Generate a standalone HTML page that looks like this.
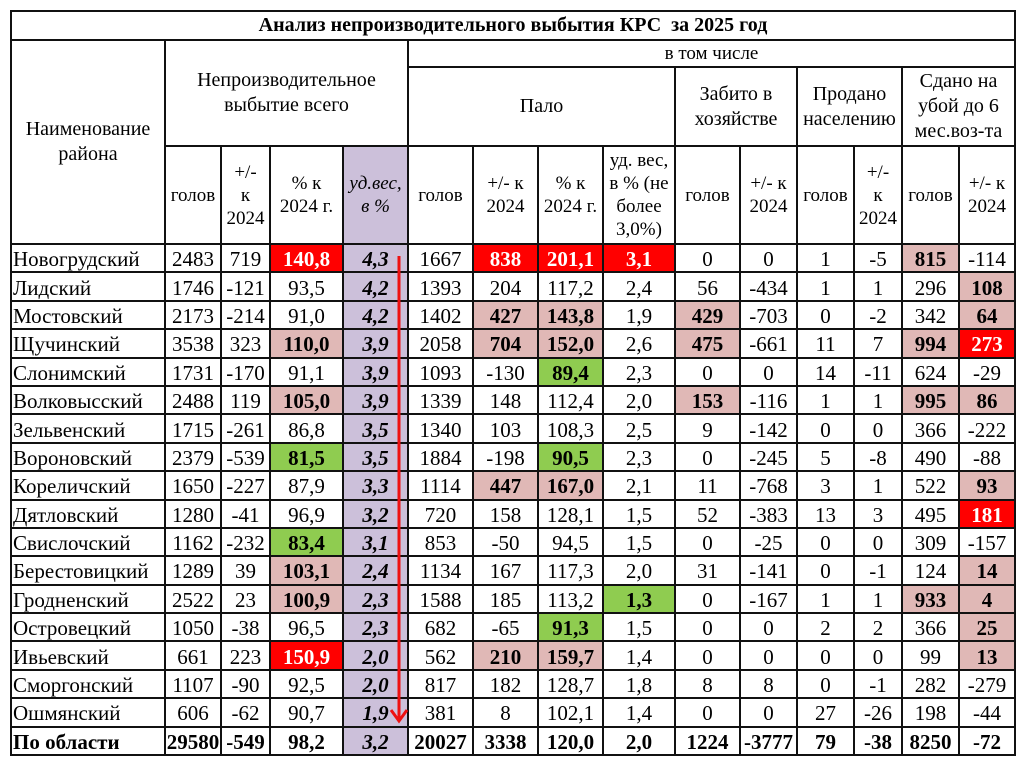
<!DOCTYPE html>
<html><head><meta charset="utf-8">
<style>
html,body{margin:0;padding:0;background:#fff;width:1024px;height:767px;overflow:hidden;}
#wrap{position:absolute;left:10px;top:10px;}
table{border-collapse:collapse;table-layout:fixed;font-family:"Liberation Serif",serif;color:#000;}
td{border:2px solid #111;padding:0;text-align:center;vertical-align:middle;overflow:hidden;white-space:nowrap;}
.title{height:27px;font-weight:bold;font-size:20px;}
.hdr{font-size:20px;line-height:25px;white-space:normal;}
.sub{font-size:19px;line-height:23px;white-space:normal;}
tr.d{height:28.4px;}
.d td{font-size:21px;line-height:18px;padding-top:2px;}
.d td.name{text-align:left;padding-left:1px;}
.pur{background:#ccc0da;}
.d td.pur{font-weight:bold;font-style:italic;}
.r{background:#ff0000;color:#fff;font-weight:bold;}
.p{background:#e0b8b6;font-weight:bold;}
.g{background:#8fcc50;font-weight:bold;}
.tot td{font-weight:bold;}
#arrow{position:absolute;left:0;top:0;pointer-events:none;}
</style></head><body>
<div id="wrap">
<table id="tbl">
<colgroup>
<col style="width:154px"><col style="width:56px"><col style="width:49px"><col style="width:73px"><col style="width:65px"><col style="width:65px"><col style="width:65px"><col style="width:65px"><col style="width:72px"><col style="width:65px"><col style="width:57px"><col style="width:57px"><col style="width:48px"><col style="width:57px"><col style="width:56px">
</colgroup>
<tr style="height:29px"><td class="title" colspan="15">Анализ непроизводительного выбытия КРС&nbsp; за 2025 год</td></tr>
<tr style="height:27px">
<td class="hdr" rowspan="3">Наименование района</td>
<td class="hdr" rowspan="2" colspan="4">Непроизводительное<br>выбытие всего</td>
<td class="hdr" colspan="10" style="font-size:19px">в том числе</td>
</tr>
<tr style="height:79px">
<td class="hdr" colspan="4">Пало</td>
<td class="hdr" colspan="2">Забито в<br>хозяйстве</td>
<td class="hdr" colspan="2">Продано<br>населению</td>
<td class="hdr" colspan="2">Сдано на<br>убой до 6<br>мес.воз-та</td>
</tr>
<tr style="height:98px">
<td class="sub">голов</td>
<td class="sub">+/-<br>к<br>2024</td>
<td class="sub">% к<br>2024 г.</td>
<td class="sub pur" style="font-style:italic">уд.вес,<br>в %</td>
<td class="sub">голов</td>
<td class="sub">+/- к<br>2024</td>
<td class="sub">% к<br>2024 г.</td>
<td class="sub">уд. вес,<br>в % (не<br>более<br>3,0%)</td>
<td class="sub">голов</td>
<td class="sub">+/- к<br>2024</td>
<td class="sub">голов</td>
<td class="sub">+/-<br>к<br>2024</td>
<td class="sub">голов</td>
<td class="sub">+/- к<br>2024</td>
</tr>
</table>
<svg id="arrow" width="1004" height="760">
<line x1="389" y1="246" x2="389" y2="710" stroke="#ee1111" stroke-width="3"/>
<polyline points="381,700 389,711 397,700" fill="none" stroke="#ee1111" stroke-width="3"/>
</svg>
</div>
<script>
const districts=["Новогрудский","Лидский","Мостовский","Щучинский","Слонимский","Волковысский","Зельвенский","Вороновский","Кореличский","Дятловский","Свислочский","Берестовицкий","Гродненский","Островецкий","Ивьевский","Сморгонский","Ошмянский","По области"];
const rowValues=[
["2483","719","140,8","4,3","1667","838","201,1","3,1","0","0","1","-5","815","-114"],
["1746","-121","93,5","4,2","1393","204","117,2","2,4","56","-434","1","1","296","108"],
["2173","-214","91,0","4,2","1402","427","143,8","1,9","429","-703","0","-2","342","64"],
["3538","323","110,0","3,9","2058","704","152,0","2,6","475","-661","11","7","994","273"],
["1731","-170","91,1","3,9","1093","-130","89,4","2,3","0","0","14","-11","624","-29"],
["2488","119","105,0","3,9","1339","148","112,4","2,0","153","-116","1","1","995","86"],
["1715","-261","86,8","3,5","1340","103","108,3","2,5","9","-142","0","0","366","-222"],
["2379","-539","81,5","3,5","1884","-198","90,5","2,3","0","-245","5","-8","490","-88"],
["1650","-227","87,9","3,3","1114","447","167,0","2,1","11","-768","3","1","522","93"],
["1280","-41","96,9","3,2","720","158","128,1","1,5","52","-383","13","3","495","181"],
["1162","-232","83,4","3,1","853","-50","94,5","1,5","0","-25","0","0","309","-157"],
["1289","39","103,1","2,4","1134","167","117,3","2,0","31","-141","0","-1","124","14"],
["2522","23","100,9","2,3","1588","185","113,2","1,3","0","-167","1","1","933","4"],
["1050","-38","96,5","2,3","682","-65","91,3","1,5","0","0","2","2","366","25"],
["661","223","150,9","2,0","562","210","159,7","1,4","0","0","0","0","99","13"],
["1107","-90","92,5","2,0","817","182","128,7","1,8","8","8","0","-1","282","-279"],
["606","-62","90,7","1,9","381","8","102,1","1,4","0","0","27","-26","198","-44"],
["29580","-549","98,2","3,2","20027","3338","120,0","2,0","1224","-3777","79","-38","8250","-72"]
];
const highlights=[
"..r..rrr....p.",
".............p",
".....pp.p....p",
"..p..pp.p...pr",
"......g.......",
"..p.....p...pp",
"..............",
"..g...g.......",
".....pp......p",
".............r",
"..g...........",
"..p..........p",
"..p....g....pp",
"......g......p",
"..r..pp......p",
"..............",
"..............",
".............."
];
const colNames=["heads","diff","pct","share","died-heads","died-diff","died-pct","died-share","slaughtered-heads","slaughtered-diff","sold-heads","sold-diff","delivered-heads","delivered-diff"];
const tbl=document.getElementById('tbl');
districts.forEach((d,i)=>{
  const tr=document.createElement('tr');
  tr.className='d'+(i===districts.length-1?' tot':'');
  
  
  const th=document.createElement('td');
  th.className='name';
  th.textContent=d;
  
  
  tr.appendChild(th);
  rowValues[i].forEach((v,j)=>{
    const td=document.createElement('td');
    td.textContent=v;
    const h=highlights[i][j];
    if(j===3) td.classList.add('pur');
    if(h!=='.') td.classList.add(h);
    
    
    tr.appendChild(td);
  });
  tbl.appendChild(tr);
});
</script>
</body></html>
